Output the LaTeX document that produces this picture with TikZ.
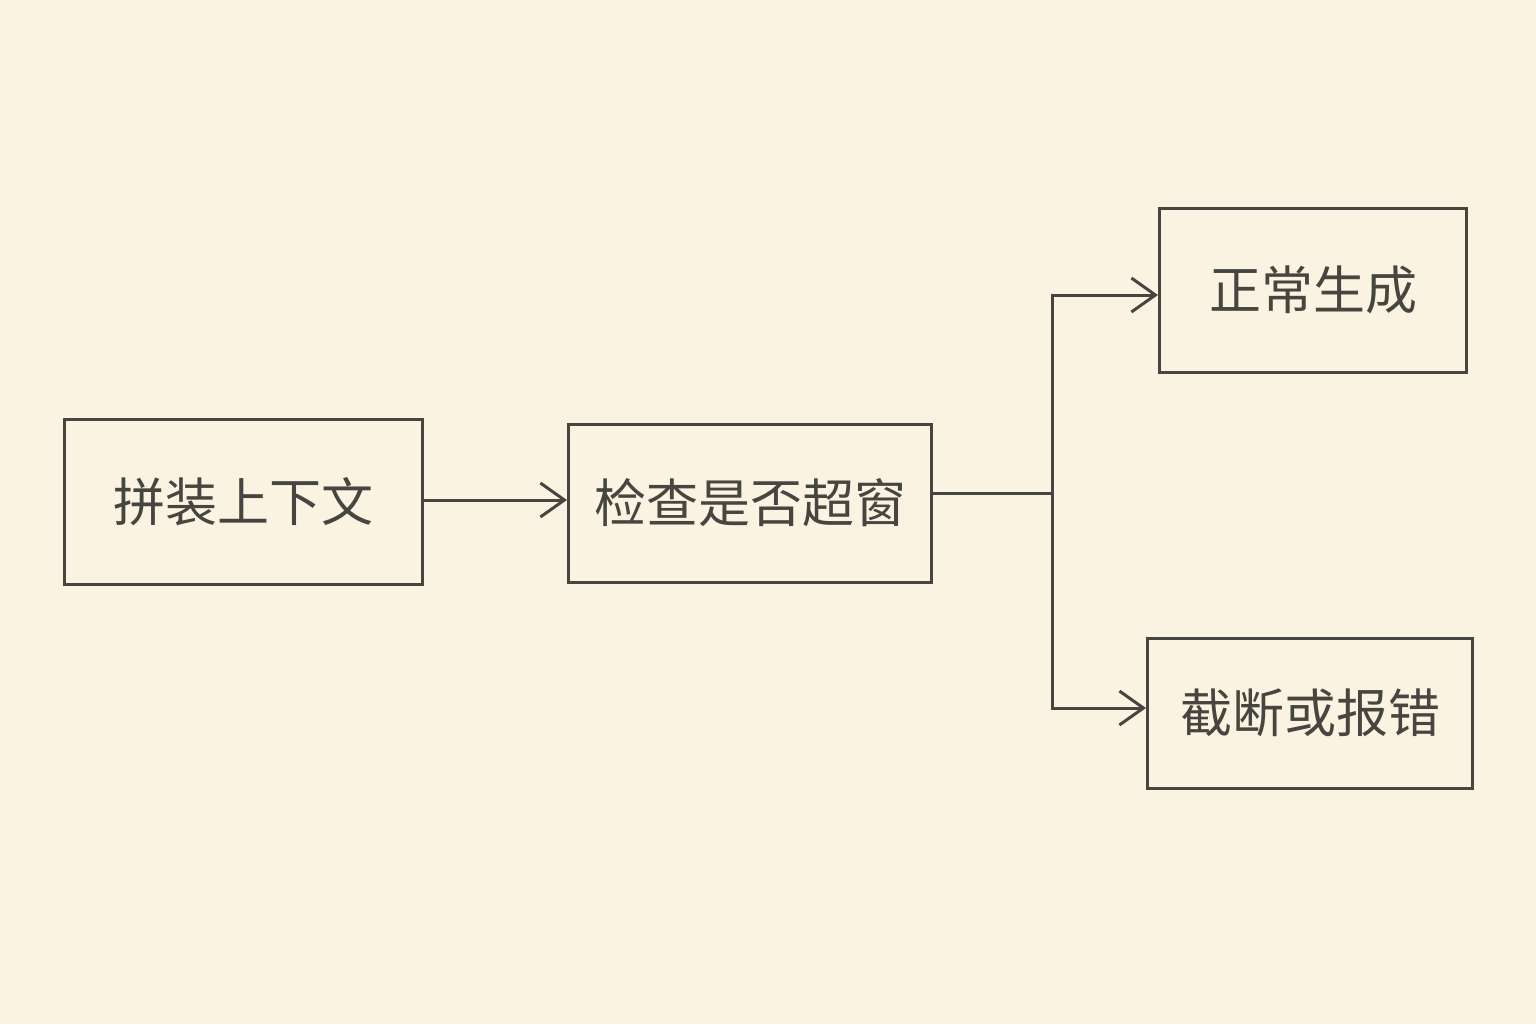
\documentclass[tikz,border=0pt]{standalone}
\usepackage{fontspec}
\newfontfamily\cjk{Noto Sans CJK SC}
\usetikzlibrary{arrows.meta}
\definecolor{bg}{HTML}{FAF3E1}
\definecolor{ink}{HTML}{474540}
\begin{document}
\begin{tikzpicture}[x=0.5pt,y=-0.5pt,
  box/.style={draw=ink,line width=1.5pt,rectangle,inner sep=0pt},
  lbl/.style={text=ink,font=\cjk\fontsize{26}{30}\selectfont},
  conn/.style={draw=ink,line width=1.5pt},
  arr/.style={conn,-{Straight Barb[length=12pt,width=17pt,line width=1.5pt]}}]
\fill[bg] (0,0) rectangle (1536,1024);
\useasboundingbox (0,0) rectangle (1536,1024);
\node[box,minimum width=179pt,minimum height=82.5pt] (a) at (243,502) {};
\node[lbl] at (a) {拼装上下文};
\node[box,minimum width=181.5pt,minimum height=79pt] (b) at (750,503) {};
\node[lbl] at (b) {检查是否超窗};
\node[box,minimum width=153.5pt,minimum height=82pt] (c) at (1313,290) {};
\node[lbl] at (c) {正常生成};
\node[box,minimum width=162.5pt,minimum height=75pt] (d) at (1310,713) {};
\node[lbl] at (d) {截断或报错};
\coordinate (j) at (1052,493);
\draw[arr] (a.east |- 0,500) -- (b.west |- 0,500);
\draw[conn] (b.east |- j) -- (j);
\draw[arr] (j) |- (c.west |- 0,295);
\draw[arr] (j) |- (d.west |- 0,708);
\end{tikzpicture}
\end{document}
